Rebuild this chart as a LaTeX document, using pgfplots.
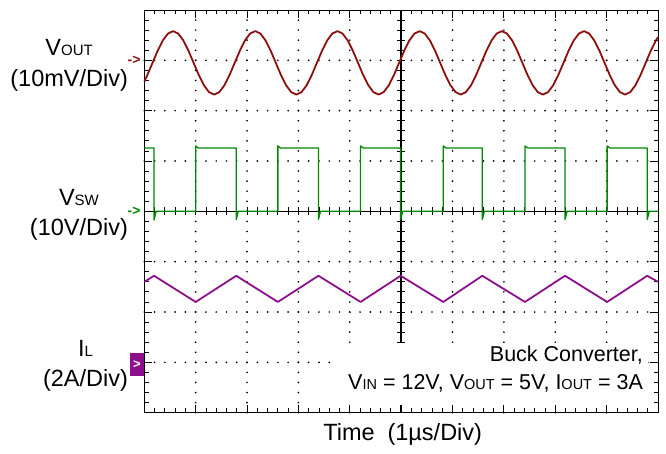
\documentclass[border=0pt]{standalone}
\usepackage{fontspec}
\setmainfont{Liberation Sans}
\usepackage{pgfplots}
\pgfplotsset{compat=1.18}

\definecolor{voutc}{RGB}{139,16,16}
\definecolor{swc}{RGB}{0,135,0}
\definecolor{ilc}{RGB}{140,16,140}

\newcommand\lbl{\fontsize{23.5}{28}\selectfont}
\newcommand\sub[1]{{\fontsize{15}{15}\selectfont #1}}
\newcommand\ann{\fontsize{21.5}{25}\selectfont}
\newcommand\asub[1]{{\fontsize{14.5}{15}\selectfont #1}}

\tikzset{
  vgrid/.style={black, line width=1.9pt, line cap=round, dash pattern=on 0pt off 10.0675pt},
  hgrid/.style={black, line width=1.9pt, line cap=round, dash pattern=on 0pt off 10.274pt},
}

\begin{document}
\begin{tikzpicture}
\useasboundingbox (-144.3pt,-41.3pt) rectangle (521.7pt,412.7pt);

% centre cross with its small ticks
\begin{axis}[
    at={(0,0)}, anchor=south west,
    scale only axis, width=513.7pt, height=402.7pt,
    xmin=-5, xmax=5, ymin=-4, ymax=4,
    axis lines=center,
    axis line style={-, black, line width=1.4pt},
    every inner x axis line/.append style={-},
    every inner y axis line/.append style={-},
    xtick distance=0.2, ytick distance=0.2,
    xticklabel=\empty, yticklabel=\empty,
    tick align=center, major tick length=8pt,
    tick style={black, line width=0.8pt},
]
\end{axis}

% scope screen: border, grid and traces
\begin{axis}[
    at={(0,0)}, anchor=south west,
    scale only axis, width=513.7pt, height=402.7pt,
    xmin=0, xmax=10, ymin=0, ymax=8,
    xtick={0,...,10}, ytick={0,...,8},
    minor x tick num=4, minor y tick num=4,
    xticklabel=\empty, yticklabel=\empty,
    tick align=inside, tick pos=both,
    major tick length=8pt, minor tick length=4.5pt,
    tick style={black, line width=0.8pt},
    axis line style={black, line width=0.9pt},
    clip=false,
]
% dotted graticule
\pgfplotsinvokeforeach{1,2,3,4,6,7,8,9}{
  \draw[vgrid] (axis cs:#1,0) -- (axis cs:#1,8);
}
\pgfplotsinvokeforeach{1,2,3,5,6,7}{
  \draw[hgrid] (axis cs:0,#1) -- (axis cs:10,#1);
}
% V_OUT ripple
\addplot[voutc, line width=1.8pt, line join=round] coordinates {
(0,6.58) (0.06,6.709) (0.16,6.950) (0.26,7.191) (0.36,7.395) (0.46,7.532)
(0.56,7.580) (0.66,7.532) (0.76,7.395) (0.86,7.191) (0.96,6.950) (1.06,6.709)
(1.16,6.505) (1.26,6.368) (1.36,6.320) (1.46,6.368) (1.56,6.505) (1.66,6.709)
(1.76,6.950) (1.86,7.191) (1.96,7.395) (2.06,7.532) (2.16,7.580) (2.26,7.532)
(2.36,7.395) (2.46,7.191) (2.56,6.950) (2.66,6.709) (2.76,6.505) (2.86,6.368)
(2.96,6.320) (3.06,6.368) (3.16,6.505) (3.26,6.709) (3.36,6.950) (3.46,7.191)
(3.56,7.395) (3.66,7.532) (3.76,7.580) (3.86,7.532) (3.96,7.395) (4.06,7.191)
(4.16,6.950) (4.26,6.709) (4.36,6.505) (4.46,6.368) (4.56,6.320) (4.66,6.368)
(4.76,6.505) (4.86,6.709) (4.96,6.950) (5.06,7.191) (5.16,7.395) (5.26,7.532)
(5.36,7.580) (5.46,7.532) (5.56,7.395) (5.66,7.191) (5.76,6.950) (5.86,6.709)
(5.96,6.505) (6.06,6.368) (6.16,6.320) (6.26,6.368) (6.36,6.505) (6.46,6.709)
(6.56,6.950) (6.66,7.191) (6.76,7.395) (6.86,7.532) (6.96,7.580) (7.06,7.532)
(7.16,7.395) (7.26,7.191) (7.36,6.950) (7.46,6.709) (7.56,6.505) (7.66,6.368)
(7.76,6.320) (7.86,6.368) (7.96,6.505) (8.06,6.709) (8.16,6.950) (8.26,7.191)
(8.36,7.395) (8.46,7.532) (8.56,7.580) (8.66,7.532) (8.76,7.395) (8.86,7.191)
(8.96,6.950) (9.06,6.709) (9.16,6.505) (9.26,6.368) (9.36,6.320) (9.46,6.368)
(9.56,6.505) (9.66,6.709) (9.76,6.950) (9.86,7.191) (9.96,7.395) (10,7.46)
};
% V_SW switch node
\addplot[swc, line width=1.3pt, line join=round] coordinates {
(0,5.26) (0.19,5.26) (0.19,3.83) (0.23,4.0) (1.0,4.0) (1.0,5.30) (1.05,5.26)
(1.79,5.26) (1.79,3.84) (1.83,4.0) (2.60,4.0) (2.60,5.30) (2.65,5.26)
(3.39,5.26) (3.39,3.84) (3.43,4.0) (4.21,4.0) (4.21,5.30) (4.26,5.26)
(4.99,5.26) (4.99,3.84) (5.03,4.0) (5.82,4.0) (5.82,5.30) (5.87,5.26)
(6.58,5.26) (6.58,3.84) (6.62,4.0) (7.41,4.0) (7.41,5.30) (7.46,5.26)
(8.19,5.26) (8.19,3.84) (8.23,4.0) (9.01,4.0) (9.01,5.30) (9.06,5.26)
(9.79,5.26) (9.79,3.84) (9.83,4.0) (10,4.0)
};
% I_L inductor current
\addplot[ilc, line width=1.8pt, line join=round] coordinates {
(0,2.60) (0.19,2.72) (1.0,2.20) (1.79,2.72) (2.60,2.20) (3.39,2.72)
(4.21,2.20) (4.99,2.72) (5.82,2.20) (6.58,2.72) (7.41,2.20) (8.19,2.72)
(9.01,2.20) (9.79,2.72) (10,2.60)
};

% channel labels
\node[anchor=base east, inner sep=0, font=\lbl] (a) at (axis cs:-0.315,6.476) {(10mV/Div)};
\node[anchor=base, inner sep=0, font=\lbl] at ([yshift=31.7pt]a.base) {V\sub{OUT}};
\node[anchor=base east, inner sep=0, font=\lbl] (b) at (axis cs:-0.315,3.53) {(10V/Div)};
\node[anchor=base, inner sep=0, font=\lbl] at ([yshift=30pt]b.base) {V\sub{SW}};
\node[anchor=base east, inner sep=0, font=\lbl] (c) at (axis cs:-0.315,0.516) {(2A/Div)};
\node[anchor=base, inner sep=0, font=\lbl] at ([yshift=30.7pt]c.base) {I\sub{L}};

% channel ground markers
\node[anchor=east, inner sep=0, text=voutc, font=\bfseries\fontsize{14}{14}\selectfont] at (axis cs:-0.07,7.0) {->};
\node[anchor=east, inner sep=0, text=swc, font=\bfseries\fontsize{14}{14}\selectfont] at (axis cs:-0.07,4.0) {->};
\node[fill=ilc, text=white, inner sep=0, minimum width=14pt, minimum height=23pt,
      font=\bfseries\fontsize{13}{13}\selectfont] at (axis cs:-0.142,0.96) {>};

% time axis label
\node[anchor=base, inner sep=0, font=\lbl] at (axis cs:5.03,-0.546) {Time\hspace{0.55em}(1µs/Div)};

% annotation
\fill[white] (axis cs:3.66,0.155) rectangle (axis cs:9.81,1.38);
\node[anchor=base east, inner sep=0, font=\ann] at (axis cs:9.71,1.013) {Buck Converter,};
\node[anchor=base east, inner sep=0, font=\ann] at (axis cs:9.71,0.451)
    {V\asub{IN} = 12V, V\asub{OUT} = 5V, I\asub{OUT} = 3A};
\end{axis}
\end{tikzpicture}
\end{document}
